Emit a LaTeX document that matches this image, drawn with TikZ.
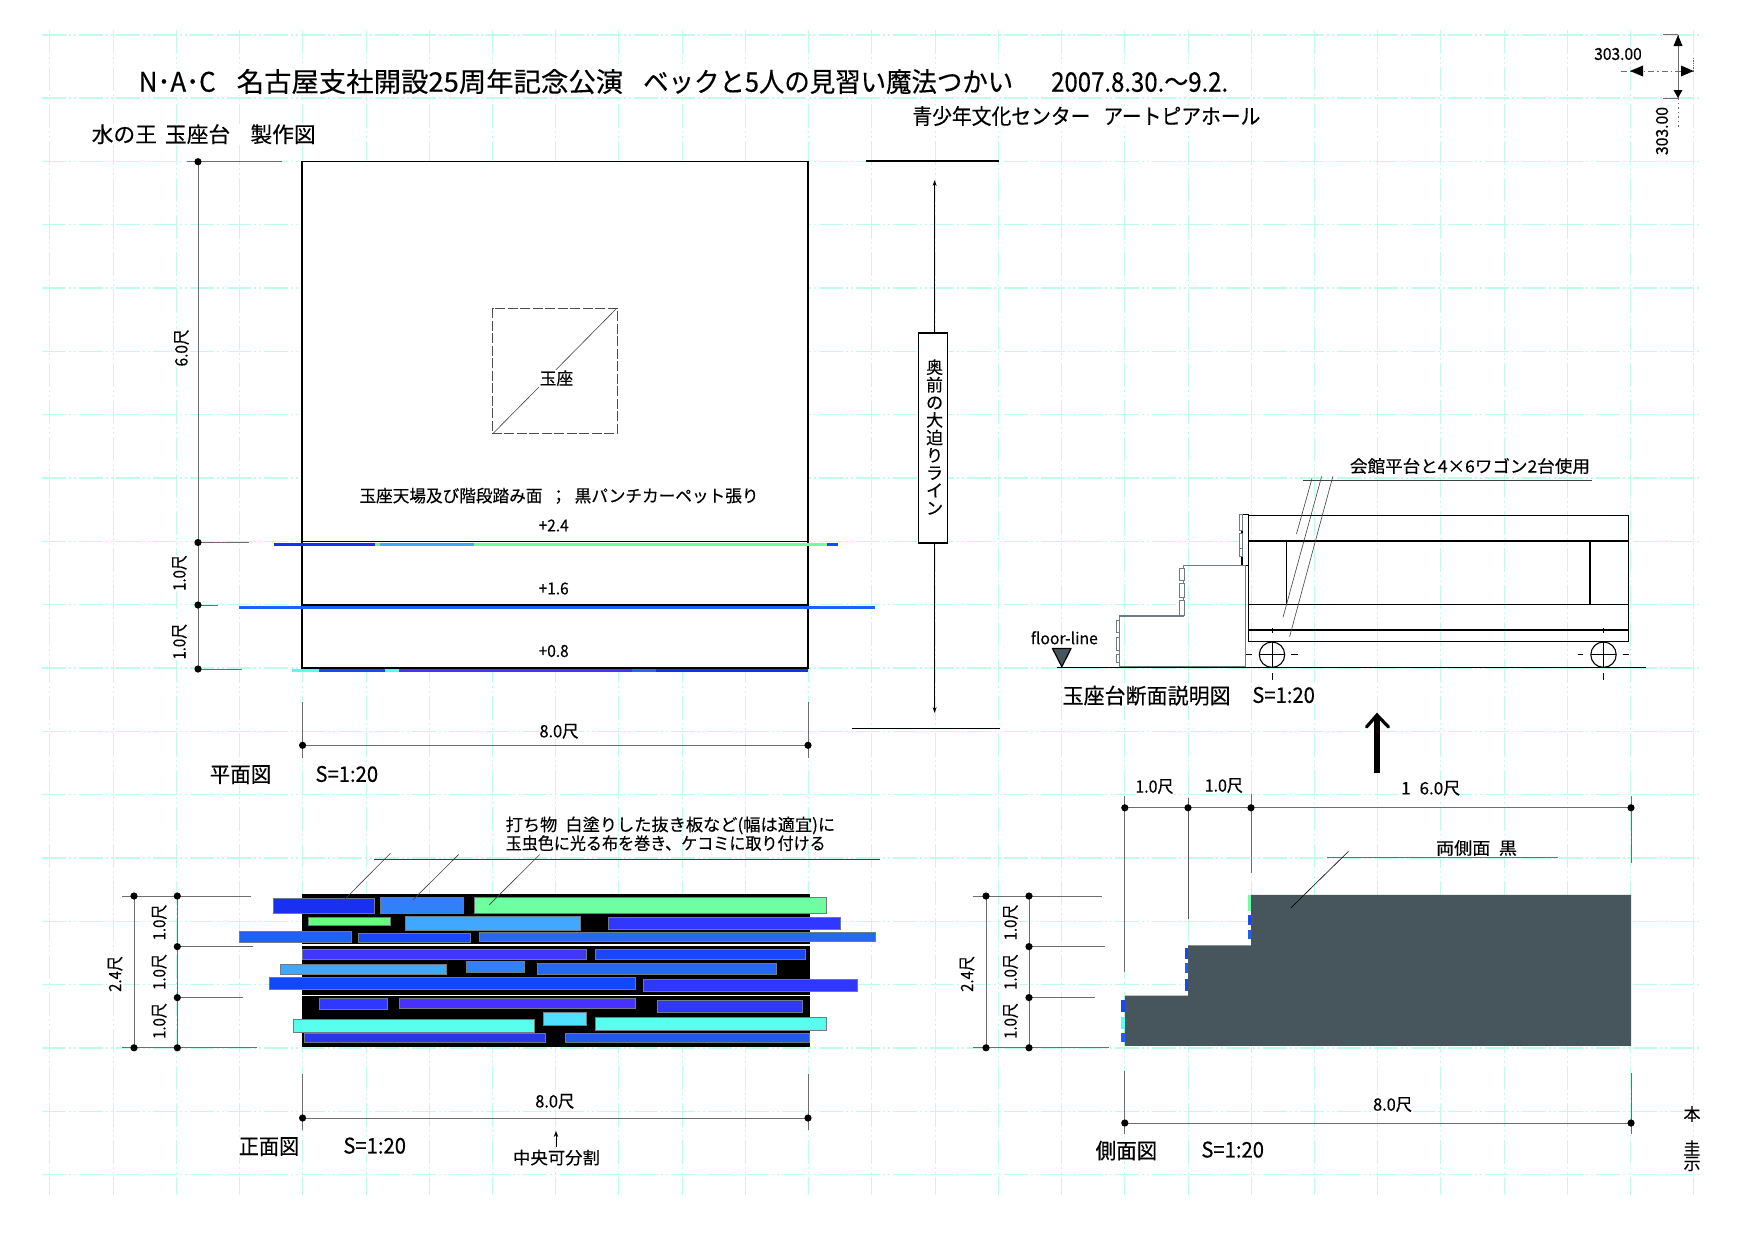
\documentclass[tikz,border=0pt]{standalone}
\usepackage{graphicx}
\usepackage{fontspec}
\setmainfont[FakeBold=0.35]{Noto Sans CJK JP}
\usetikzlibrary{arrows.meta}
\definecolor{gridc}{HTML}{BFFDE4}
\definecolor{dimc}{HTML}{6E6E6E}
\definecolor{plankedge}{HTML}{6E7C84}
\definecolor{slate}{HTML}{47555C}
\definecolor{pA}{HTML}{1A30F0}
\definecolor{pB}{HTML}{3080F8}
\definecolor{pC}{HTML}{70FFA0}
\definecolor{pD}{HTML}{66FF80}
\definecolor{pE}{HTML}{40A8FF}
\definecolor{pF}{HTML}{3038FF}
\definecolor{pG}{HTML}{2060F8}
\definecolor{pH}{HTML}{1848F8}
\definecolor{pI}{HTML}{2868F0}
\definecolor{pJ}{HTML}{4038F8}
\definecolor{pK}{HTML}{1048FF}
\definecolor{pL}{HTML}{4830FF}
\definecolor{pM}{HTML}{58FFEE}
\definecolor{pN}{HTML}{50E0FF}
\definecolor{pO}{HTML}{2838E8}
\definecolor{pP}{HTML}{2058E8}
\newsavebox{\mybx}
\newcommand{\W}[2]{\sbox{\mybx}{#2}\pgfmathsetmacro{\rr}{#1/\the\wd\mybx}\scalebox{\rr}[1]{\usebox{\mybx}}}
\tikzset{
  x=1pt,y=-1pt,
  fs/.style={font=\fontsize{#1}{#1}\selectfont},
  lbl/.style={fs=#1,fill=white,inner sep=0.5pt,text=black},
  gridh/.style={draw=gridc,line width=1.4pt,dash pattern=on 24pt off 3pt on 2pt off 3pt on 2pt off 3pt},
  gridv/.style={draw=gridc,line width=0.9pt,dash pattern=on 24pt off 3pt on 2pt off 3pt on 2pt off 3pt},
  dimline/.style={draw=dimc,line width=0.9pt},
  thinl/.style={draw=black!75,line width=0.6pt},
  blk/.style={draw=black,line width=1.5pt},
  plank/.style={draw=plankedge,line width=0.9pt,fill=#1},
  edgeplank/.style={draw=plankedge,line width=0.7pt,fill=white},
  sp/.style={fill=#1,draw=none}
}
\newcommand{\dt}[2]{\fill[black] (#1,#2) circle (3.6);}
\begin{document}
\begin{tikzpicture}
\useasboundingbox (0,0) rectangle (1754,1240);
\fill[white] (0,0) rectangle (1754,1240);
% grid
\foreach \i in {0,...,18}{\pgfmathsetmacro{\yy}{34.8+63.32*\i}\draw[gridh] (42,\yy)--(1699,\yy);}
\foreach \i in {0,...,26}{\pgfmathsetmacro{\xx}{49.8+63.23*\i}\draw[gridv] (\xx,30)--(\xx,1195);}
% title
\node[lbl=27,anchor=west] (title) at (138,81.5) {\W{77}{N･A･C}\hspace{21pt}\W{386.5}{名古屋支社開設25周年記念公演}\hspace{20pt}\W{370}{ベックと5人の見習い魔法つかい}\hspace{38pt}\W{177}{2007.8.30.〜9.2.}};
\node[lbl=21.5,anchor=west] (sub) at (91,134.2) {\W{224}{水の王\hspace{8pt}玉座台\hspace{20pt}製作図}};
\node[lbl=21.5,anchor=west] (hall) at (911.7,116) {\W{348}{青少年文化センター\hspace{14pt}アートピアホール}};
% top-right marker
\draw[dimline] (1663,34.8)--(1678,34.8);
\draw[dimline] (1663,98)--(1678,98);
\draw[dimline] (1678,34.8)--(1678,98);
\draw[dimc,line width=0.9pt,dash pattern=on 1.5pt off 3pt] (1678,98)--(1678,128);
\draw[dimc,line width=0.9pt,dash pattern=on 6pt off 3pt on 1.5pt off 3pt] (1621,71)--(1693.6,71);
\fill[black] (1678,35)--(1673.5,46)--(1682.5,46)--cycle;
\fill[black] (1678,98)--(1673.5,90)--(1682.5,90)--cycle;
\fill[black] (1630,71)--(1643,65.5)--(1643,76.5)--cycle;
\fill[black] (1693.6,71)--(1681,65.5)--(1681,76.5)--cycle;
\draw[dimc,line width=0.7pt,densely dotted] (1693.6,58)--(1693.6,71);
\node[lbl=16.5] (m1) at (1618,54) {\W{47.5}{303.00}};
\node[lbl=16.5,rotate=90] (m2) at (1662,131) {\W{48}{303.00}};
% plan
\draw[blk,fill=white] (302,161.7) rectangle (808,668);
\draw[blk] (302,541.7)--(808,541.7);
\draw[blk] (302,605)--(808,605);
\draw[black!70,line width=0.7pt,dash pattern=on 10pt off 2.5pt] (492.7,308) rectangle (617,433.8);
\draw[thinl] (492.7,433.8)--(617,308);
\node[lbl=17] (throne) at (556.5,378.2) {\W{33.5}{玉座}};
\node[lbl=17] (note) at (559,495.8) {\W{399}{玉座天場及び階段踏み面\hspace{8pt}；\hspace{8pt}黒パンチカーペット張り}};
\node[lbl=16.5] (p24) at (553.7,525.5) {\W{30}{+2.4}};
\node[lbl=16.5] (p16) at (553.7,588.5) {\W{30}{+1.6}};
\node[lbl=16.5] (p08) at (553.7,651) {\W{30}{+0.8}};
% plan-edge strips
\fill[pH] (273.5,542.8) rectangle (838,546);
\fill[pA] (273.5,542.8) rectangle (374.7,546);
\fill[pD] (374.7,542.8) rectangle (380,546);
\fill[pE] (380,542.8) rectangle (463,546);
\fill[pE] (463,542.8) rectangle (474,546);
\fill[pC] (474,542.8) rectangle (826.6,546);
\fill[pG] (239,606) rectangle (875,609);
\fill[pM] (292,669.4) rectangle (319,672.2);
\fill[pH] (319,669.4) rectangle (385,672.2);
\fill[pM] (385,669.4) rectangle (398.5,672.2);
\fill[pL] (398.5,669.4) rectangle (632,672.2);
\fill[pI] (632,669.4) rectangle (655.5,672.2);
\fill[pA] (655.5,669.4) rectangle (808,672.2);
% plan dims
\draw[dimline] (198,161.7)--(198,669);
\draw[dimline] (187,161.7)--(282,161.7);
\draw[dimline] (198,542.5)--(249,542.5);
\draw[dimline] (198,605)--(218,605);
\draw[dimline] (198,669)--(241.6,669);
\dt{198}{161.7}\dt{198}{542.5}\dt{198}{605}\dt{198}{669}
\node[lbl=17,rotate=90] (d60) at (181.5,348) {\W{36.8}{6.0尺}};
\node[lbl=17,rotate=90] (d10a) at (179.5,573) {\W{35.6}{1.0尺}};
\node[lbl=17,rotate=90] (d10b) at (179.5,641.7) {\W{35.6}{1.0尺}};
\draw[dimline] (302.6,745.3)--(808,745.3);
\draw[dimline] (302.6,702)--(302.6,757.6);
\draw[dimline] (808,702)--(808,757.6);
\dt{302.6}{745.3}\dt{808}{745.3}
\node[lbl=17] (d80a) at (559,731.3) {\W{39}{8.0尺}};
\node[lbl=21.5] (plan) at (240.5,774.6) {\W{61.5}{平面図}};
\node[lbl=21.5] (splan) at (346.8,774) {\W{62.6}{S=1:20}};
% traverse line
\draw[black,line width=1.4pt] (865.8,161)--(999,161);
\draw[black,line width=1.4pt] (851.8,728.7)--(1000,728.7);
\node[draw=black,line width=1.3pt,fill=white,minimum width=29pt,minimum height=210pt,inner sep=0pt] (trav) at (933,438) {};
\coordinate (tt) at (934.6,180);
\coordinate (tb) at (934.6,713);
\draw[black,line width=0.8pt,-{Stealth[length=6pt,width=4pt]}] (934.6,333)--(tt);
\draw[black,line width=0.8pt,-{Stealth[length=6pt,width=4pt]}] (934.6,543)--(tb);
\node[inner sep=0pt,align=center,font=\fontsize{17}{17.6}\selectfont] (travt) at (934.6,437) {奥\\前\\の\\大\\迫\\り\\ラ\\イ\\ン};
% section view
\draw[thinl] (1303,480.4)--(1592,480.4);
\node[lbl=17] (wagon) at (1470,466) {\W{240}{会館平台と4×6ワゴン2台使用}};
\draw[blk] (1248.4,515.3) rectangle (1628.4,641.7);
\draw[blk] (1248.4,541)--(1628.4,541);
\draw[black,line width=1.1pt] (1248.4,604.7)--(1628.4,604.7);
\draw[blk] (1248.4,630)--(1628.4,630);
\draw[black,line width=1.1pt] (1286.3,541)--(1286.3,604.7);
\draw[black,line width=1.1pt] (1590,541)--(1590,604.7);
\draw[black,line width=1.1pt,fill=white] (1242,514.7) rectangle (1248.4,565.7);
\draw[edgeplank] (1239,514.7) rectangle (1242,530);
\draw[edgeplank] (1239,533.5) rectangle (1242,548.5);
\draw[edgeplank] (1239,548) rectangle (1242,556.7);
\draw[plankedge,line width=1.1pt] (1245.5,565.7)--(1183.9,565.7)--(1183.9,616)--(1119.8,616)--(1119.8,666.7)--(1245.5,666.7)--cycle;
\draw[edgeplank] (1179.8,568) rectangle (1183.9,580);
\draw[edgeplank] (1179.8,583) rectangle (1183.9,597);
\draw[edgeplank] (1179.8,600.7) rectangle (1183.9,615);
\draw[edgeplank] (1116.5,620.7) rectangle (1119.8,632.7);
\draw[edgeplank] (1116.5,637) rectangle (1119.8,650);
\draw[edgeplank] (1116.5,654) rectangle (1119.8,662.7);
\draw[thinl] (1312,478.5)--(1296.5,533.8);
\draw[thinl] (1321.6,476.5)--(1283,617.3);
\draw[thinl] (1332.8,476.5)--(1289.6,636.7);
\draw[black,line width=1.5pt] (1056.5,667.7)--(1646,667.7);
\draw[black,line width=1.2pt,fill=slate,line join=round] (1052.5,648.5)--(1071,648.5)--(1061.8,666.7)--cycle;
\node[lbl=16,fill=none] (floor) at (1064.3,637.8) {\W{67}{floor-line}};
\foreach \cx in {1272,1603.5}{
  \draw[black,line width=1.1pt] (\cx,654.7) circle (12.7);
  \draw[black,line width=0.9pt] (\cx-12.7,654.7)--(\cx+12.7,654.7);
  \draw[black,line width=0.9pt] (\cx,642)--(\cx,667.4);
  \draw[black,line width=0.9pt] (\cx,628)--(\cx,633);
  \draw[black,line width=0.9pt] (\cx,673)--(\cx,680);
  \draw[black,line width=0.9pt] (\cx-26,654.7)--(\cx-20.5,654.7);
  \draw[black,line width=0.9pt] (\cx+19,654.7)--(\cx+25.5,654.7);
}
\node[lbl=21.5] (seccap) at (1146.6,695.6) {\W{168}{玉座台断面説明図}};
\node[lbl=21.5] (ssec) at (1283.6,695) {\W{62.6}{S=1:20}};
\draw[black,line width=5.2pt] (1377,773.4)--(1377,717);
\draw[black,line width=3.2pt,line cap=round] (1366.5,727)--(1377,715)--(1388.5,727);
% front elevation
\fill[black] (302,894) rectangle (809.8,1047.3);
\fill[white] (302,944) rectangle (809.8,945.5);
\fill[white] (302,994.6) rectangle (809.8,996);
\begin{scope}[shift={(220,880)},x=0.43365pt,y=-0.33333pt]
\foreach \a/\b/\c/\d/\k in {
124/55/357/100/pA,371/52/562/100/pB,587/52/1399/100/pC,
205/111/392/136/pD,428/108/832/151/pE,896/112/1430/147/pF,
44/153/303/187/pG,320/161/578/187/pH,599/156/1512/183/pI,
190/207/845/239/pJ,866/207/1351/239/pH,
139/253/522/284/pE,569/243/703/276/pB,732/250/1283/283/pI,
114/293/957/328/pK,977/299/1469/334/pF,
229/354/385/388/pF,414/354/957/386/pL,1008/362/1344/398/pF,
170/417/724/456/pM,746/397/845/436/pN,866/412/1399/451/pM,
195/461/751/488/pO,797/461/1360/488/pP}{
  \draw[plank=\k] (\a,\b) rectangle (\c,\d);
}
\end{scope}
\draw[thinl] (374,859.6)--(880,859.6);
\draw[thinl] (390.4,853.3)--(341,903);
\draw[thinl] (458.6,854.5)--(412.8,900);
\draw[thinl] (539.7,854.5)--(489.4,904.7);
\node[lbl=17,anchor=west,fill=none] (n1) at (505,825.4) {\W{329.5}{打ち物\hspace{8pt}白塗りした抜き板など(幅は適宜)に}};
\node[lbl=17,anchor=west,fill=none] (n2) at (505,843.2) {\W{320}{玉虫色に光る布を巻き、ケコミに取り付ける}};
\draw[dimline] (134,896)--(134,1047.8);
\draw[dimline] (177.3,896)--(177.3,1047.8);
\draw[dimline] (122,896)--(251,896);
\draw[dimline] (177.3,946.6)--(253,946.6);
\draw[dimline] (177.3,997.6)--(243,997.6);
\draw[dimline] (122,1047.8)--(256.7,1047.8);
\dt{134}{896}\dt{177.3}{896}\dt{177.3}{946.6}\dt{177.3}{997.6}\dt{134}{1047.8}\dt{177.3}{1047.8}
\node[lbl=17,rotate=90] (f24) at (115.2,974) {\W{35.6}{2.4尺}};
\node[lbl=17,rotate=90] (f1a) at (159.4,922.5) {\W{35.6}{1.0尺}};
\node[lbl=17,rotate=90] (f1b) at (159.4,972) {\W{35.6}{1.0尺}};
\node[lbl=17,rotate=90] (f1c) at (159.4,1021) {\W{35.6}{1.0尺}};
\draw[dimline] (302.6,1118)--(808,1118);
\draw[dimline] (302.6,1074)--(302.6,1130);
\draw[dimline] (808,1074)--(808,1130);
\dt{302.6}{1118}\dt{808}{1118}
\node[lbl=17] (d80b) at (554.8,1101.4) {\W{39}{8.0尺}};
\node[lbl=21.5] (front) at (269,1146.6) {\W{60.4}{正面図}};
\node[lbl=21.5] (sfront) at (374.7,1145.6) {\W{62.6}{S=1:20}};
\node[lbl=17] (mid) at (556.5,1157.6) {\W{87}{中央可分割}};
\coordinate (midtip) at (556,1131);
\draw[black,line width=0.9pt,-{Stealth[length=6pt,width=4.5pt]}] (556,1146.7)--(midtip);
% side elevation
\draw[dimline] (1124.8,807.8)--(1631,807.8);
\draw[dimline] (1124.8,796)--(1124.8,972);
\draw[black!65,line width=1pt] (1188,798)--(1188,918.5);
\draw[dimline] (1251,794)--(1251,873);
\draw[dimline] (1631,796)--(1631,863);
\dt{1124.8}{807.8}\dt{1188}{807.8}\dt{1251}{807.8}\dt{1631}{807.8}
\node[lbl=17] (s1a) at (1154.4,786.6) {\W{38}{1.0尺}};
\node[lbl=17] (s1b) at (1223.8,785.6) {\W{38}{1.0尺}};
\node[lbl=17] (s16) at (1430.7,788.3) {\W{59}{1\hspace{9pt}6.0尺}};
\fill[slate] (1124.8,995.6)--(1188,995.6)--(1188,945.4)--(1251,945.4)--(1251,894.8)--(1631,894.8)--(1631,1045.9)--(1124.8,1045.9)--cycle;
\draw[dimline] (1327,857)--(1557.6,857);
\draw[thinl,draw=black] (1348.5,851.3)--(1290.9,907.9);
\node[lbl=17] (both) at (1476.5,848) {\W{81}{両側面\hspace{8pt}黒}};
\fill[pC] (1247.6,894.8) rectangle (1251,910.6);
\fill[pH] (1247.6,914.6) rectangle (1251,925.3);
\fill[pG] (1247.6,930.4) rectangle (1251,938.7);
\fill[pH] (1184.6,948.2) rectangle (1188,958.9);
\fill[pG] (1184.6,963.2) rectangle (1188,973.1);
\fill[pH] (1184.6,979) rectangle (1188,990.5);
\fill[pH] (1121,1000.4) rectangle (1124.8,1011.5);
\fill[pM] (1121,1017.4) rectangle (1124.8,1029.3);
\fill[pG] (1121,1033.2) rectangle (1124.8,1041.9);
\draw[dimline] (986,896)--(986,1047.8);
\draw[dimline] (1029,896)--(1029,1047.8);
\draw[dimline] (973,896)--(1102.4,896);
\draw[dimline] (1029,946.6)--(1105,946.6);
\draw[dimline] (1029,997.6)--(1095,997.6);
\draw[dimline] (973,1047.8)--(1108.5,1047.8);
\dt{986}{896}\dt{1029}{896}\dt{1029}{946.6}\dt{1029}{997.6}\dt{986}{1047.8}\dt{1029}{1047.8}
\node[lbl=17,rotate=90] (r24) at (967.1,974) {\W{35.6}{2.4尺}};
\node[lbl=17,rotate=90] (r1a) at (1010.6,922.5) {\W{35.6}{1.0尺}};
\node[lbl=17,rotate=90] (r1b) at (1010.6,972) {\W{35.6}{1.0尺}};
\node[lbl=17,rotate=90] (r1c) at (1010.6,1021) {\W{35.6}{1.0尺}};
\draw[dimline] (1124.8,1123)--(1631,1123);
\draw[dimline] (1124.8,1071)--(1124.8,1134);
\draw[dimline] (1631,1073)--(1631,1134);
\dt{1124.8}{1123}\dt{1631}{1123}
\node[lbl=17] (d80c) at (1392.6,1104.6) {\W{39}{8.0尺}};
\node[lbl=21.5] (side) at (1126.4,1150.6) {\W{61.5}{側面図}};
\node[lbl=21.5] (sside) at (1232.7,1149.6) {\W{62.6}{S=1:20}};
\node[lbl=17] (hon) at (1692,1114) {本};
\node[lbl=17] (kei) at (1692,1148) {圭};
\node[lbl=17] (shi) at (1692,1164) {示};
\end{tikzpicture}
\end{document}
